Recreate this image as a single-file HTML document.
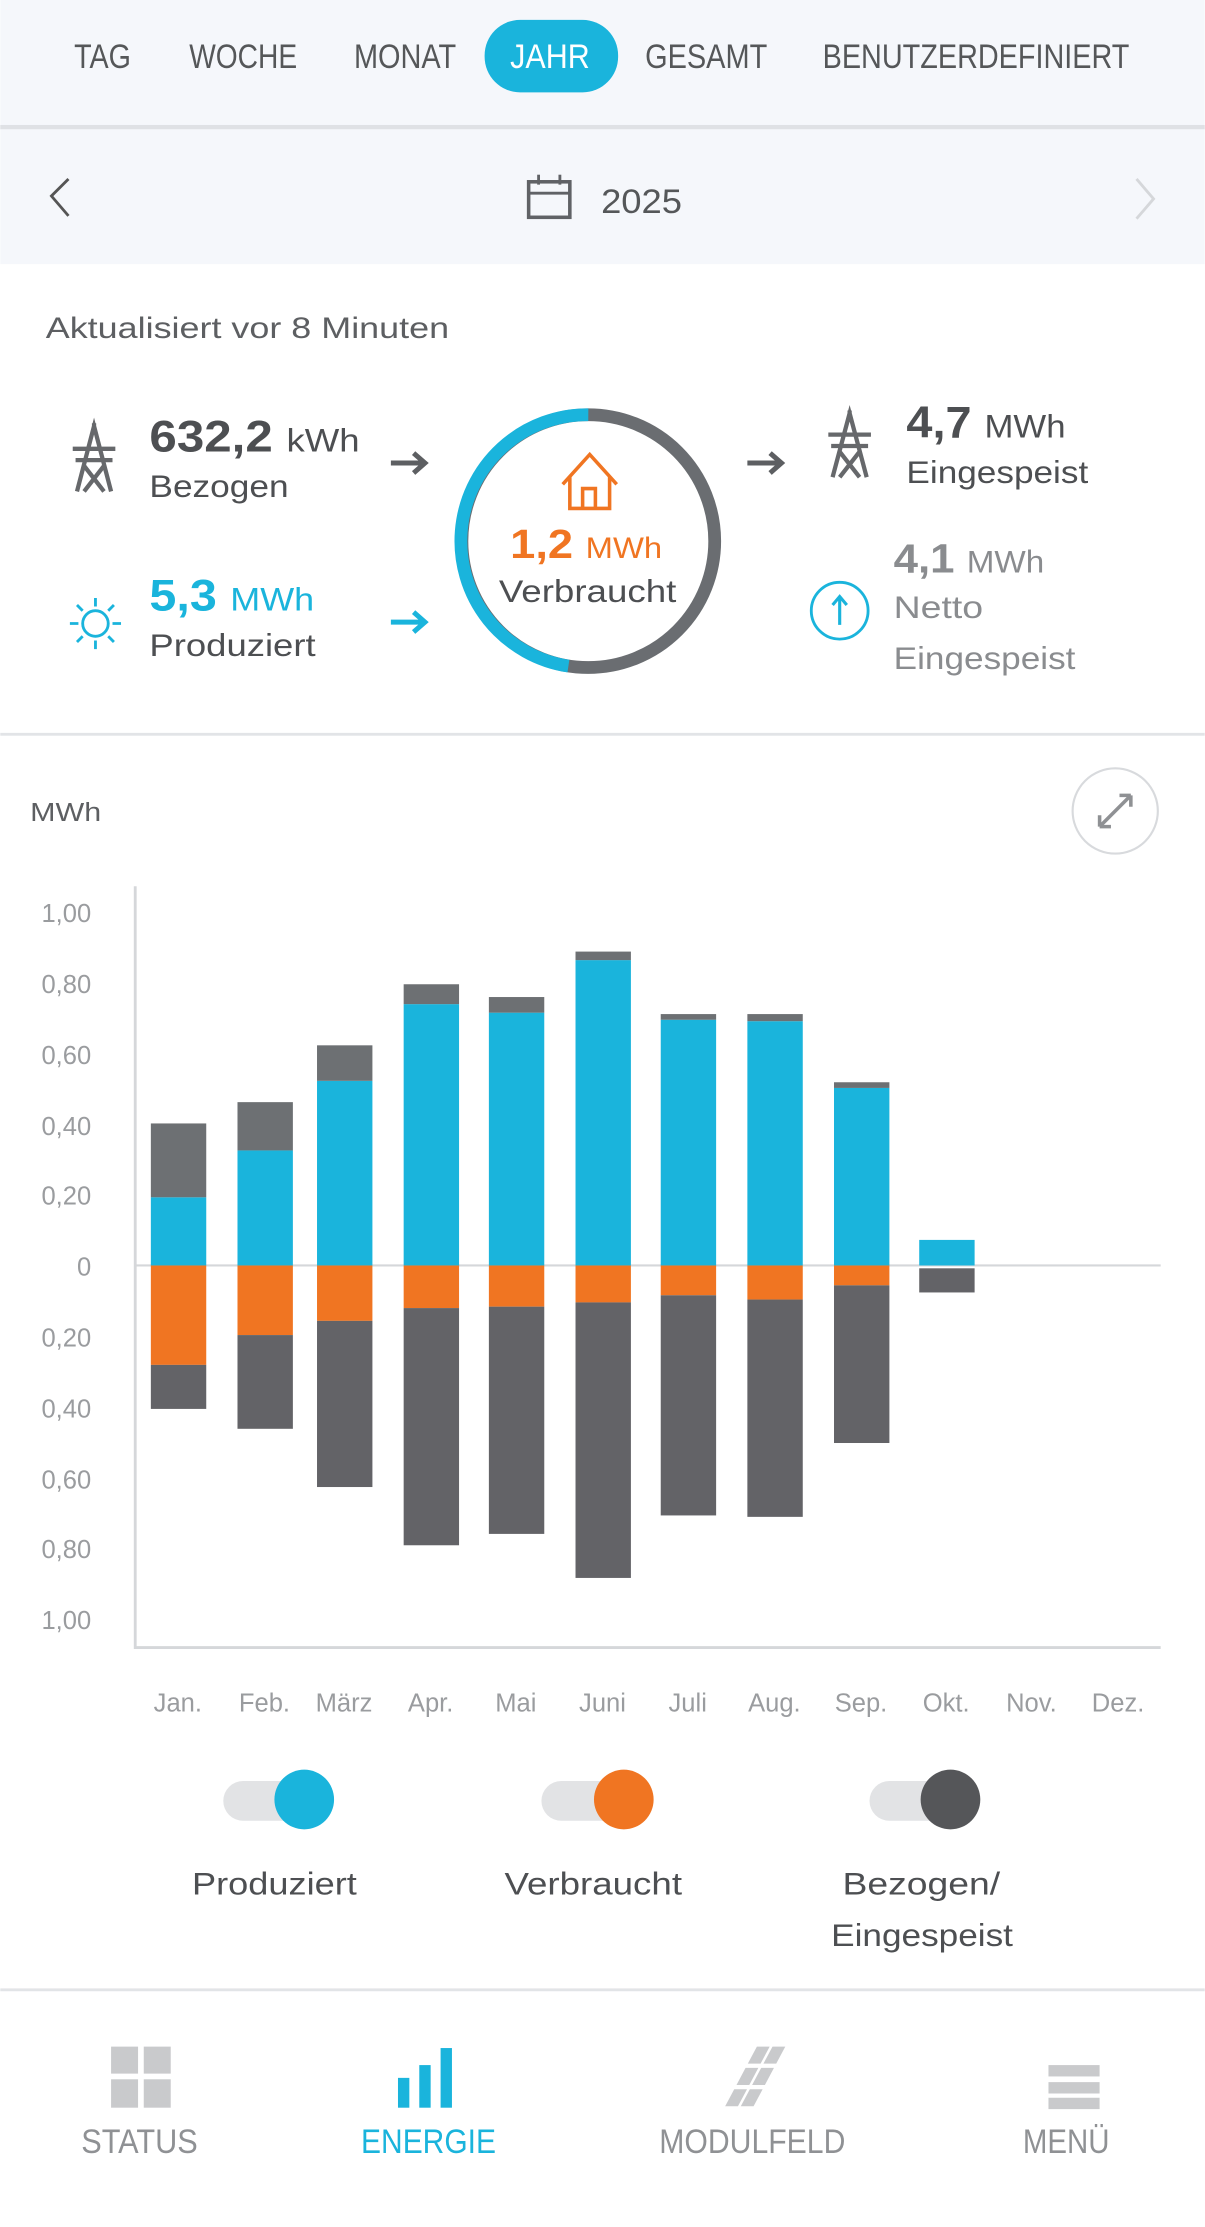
<!DOCTYPE html>
<html><head><meta charset="utf-8"><style>
html,body{margin:0;padding:0;background:#fff;}
svg{display:block}
text{font-family:"Liberation Sans",sans-serif;}
.n{font-family:"Liberation Sans Narrow","Liberation Sans",sans-serif;}
</style></head><body>
<svg width="1205" height="2227" viewBox="0 0 848 1568" xmlns="http://www.w3.org/2000/svg">
<rect width="848" height="1568" fill="#fff"/>
<rect width="848" height="186" fill="#f5f7fb"/>
<rect y="88" width="848" height="3" fill="#dfe1e5"/>
<!-- tabs -->
<rect x="341" y="14" width="94" height="51" rx="25" fill="#1ab4dc"/>
<g class="n" font-size="24" fill="#555759">
<text x="52" y="48" textLength="40" lengthAdjust="spacingAndGlyphs" class="n">TAG</text>
<text x="133" y="48" textLength="76" lengthAdjust="spacingAndGlyphs" class="n">WOCHE</text>
<text x="249" y="48" textLength="72" lengthAdjust="spacingAndGlyphs" class="n">MONAT</text>
<text x="359" y="48" textLength="56" lengthAdjust="spacingAndGlyphs" class="n" fill="#fff">JAHR</text>
<text x="454" y="48" textLength="86" lengthAdjust="spacingAndGlyphs" class="n">GESAMT</text>
<text x="579" y="48" textLength="216" lengthAdjust="spacingAndGlyphs" class="n">BENUTZERDEFINIERT</text>
<text x="423" y="150" textLength="57" lengthAdjust="spacingAndGlyphs" class="n">2025</text>
</g>
<path d="M48 126 L36 138 L48 152" stroke="#555" stroke-width="2" fill="none"/>
<path d="M800 126 L812 140 L800 154" stroke="#d5d7da" stroke-width="2" fill="none"/>
<rect x="372" y="128" width="29" height="25" fill="none" stroke="#606266" stroke-width="2.5"/>
<line x1="372" y1="136" x2="401" y2="136" stroke="#606266" stroke-width="2"/>
<line x1="379" y1="123" x2="379" y2="130" stroke="#606266" stroke-width="2"/>
<line x1="394" y1="123" x2="394" y2="130" stroke="#606266" stroke-width="2"/>

<text x="32" y="238" font-size="21" fill="#5d5f62" textLength="284" lengthAdjust="spacingAndGlyphs">Aktualisiert vor 8 Minuten</text>

<!-- pylons -->
<g stroke="#66686b" stroke-width="3" fill="none">
<path d="M54 346 L66 300 L78 346 M59 328 L73 346 M73 328 L59 346 M51 316 L81 316 M53 324 L79 324 M66 298 L66 306"/>
<path d="M586 336 L598 291 L610 336 M591 318 L605 336 M605 318 L591 336 M583 306 L613 306 M585 314 L611 314 M598 289 L598 297"/>
</g>
<text x="105" y="318" font-size="31" font-weight="bold" fill="#4d4f52" textLength="148" lengthAdjust="spacingAndGlyphs">632,2 <tspan font-size="23" font-weight="normal">kWh</tspan></text>
<text x="105" y="350" font-size="22" fill="#4d4f52" textLength="98" lengthAdjust="spacingAndGlyphs">Bezogen</text>
<text x="105" y="430" font-size="31" font-weight="bold" fill="#1ab4dc" textLength="116" lengthAdjust="spacingAndGlyphs">5,3 <tspan font-size="23" font-weight="normal">MWh</tspan></text>
<text x="105" y="462" font-size="22" fill="#4d4f52" textLength="117" lengthAdjust="spacingAndGlyphs">Produziert</text>
<!-- sun -->
<g stroke="#1ab4dc" stroke-width="2" fill="none">
<circle cx="67" cy="439" r="9"/>
<path d="M67 421v6M67 451v6M49 439h6M79 439h6M54 426l4 4M76 448l4 4M80 426l-4 4M54 452l4-4"/>
</g>
<!-- arrows -->
<g stroke-width="3.5">
<path d="M275 326h24M291 319l8 7-8 7" stroke="#5d5f62" fill="none"/>
<path d="M275 438h24M291 431l8 7-8 7" stroke="#1ab4dc" fill="none"/>
<path d="M526 326h24M542 319l8 7-8 7" stroke="#5d5f62" fill="none"/>
</g>
<!-- ring -->
<circle cx="414" cy="381" r="89" fill="none" stroke="#6a6d71" stroke-width="9"/>
<path d="M414 292 A89 89 0 0 0 400 469" fill="none" stroke="#1ab4dc" stroke-width="9"/>
<path d="M396 341 L415 320 L434 341 M401 336 L401 358 L429 358 L429 336 M410 358 L410 344 L419 344 L419 358" stroke="#f07522" stroke-width="2.5" fill="none"/>
<text x="359" y="393" font-size="29" font-weight="bold" fill="#f07522" textLength="107" lengthAdjust="spacingAndGlyphs">1,2 <tspan font-size="21" font-weight="normal">MWh</tspan></text>
<text x="351" y="424" font-size="22" fill="#4d4f52" textLength="125" lengthAdjust="spacingAndGlyphs">Verbraucht</text>
<text x="638" y="308" font-size="31" font-weight="bold" fill="#4d4f52" textLength="112" lengthAdjust="spacingAndGlyphs">4,7 <tspan font-size="23" font-weight="normal">MWh</tspan></text>
<text x="638" y="340" font-size="22" fill="#4d4f52" textLength="128" lengthAdjust="spacingAndGlyphs">Eingespeist</text>
<text x="629" y="403" font-size="29" font-weight="bold" fill="#8a8c8f" textLength="106" lengthAdjust="spacingAndGlyphs">4,1 <tspan font-size="22" font-weight="normal">MWh</tspan></text>
<text x="629" y="435" font-size="22" fill="#8a8c8f" textLength="63" lengthAdjust="spacingAndGlyphs">Netto</text>
<text x="629" y="471" font-size="22" fill="#8a8c8f" textLength="128" lengthAdjust="spacingAndGlyphs">Eingespeist</text>
<circle cx="591" cy="430" r="20" fill="none" stroke="#1ab4dc" stroke-width="2"/>
<path d="M591 440 V421 M586 426 L591 420 L596 426" stroke="#1ab4dc" stroke-width="2.2" fill="none"/>

<rect y="516" width="848" height="2" fill="#e2e4e7"/>
<text x="21" y="578" font-size="18" fill="#5d5f62" textLength="50" lengthAdjust="spacingAndGlyphs">MWh</text>
<circle cx="785" cy="571" r="30" fill="none" stroke="#d8dadd" stroke-width="1.5"/>
<path d="M774 582 L796 560 M774 582 l0 -8 M774 582 l8 0 M796 560 l-8 0 M796 560 l0 8" stroke="#8f9194" stroke-width="2.5" fill="none"/>

<!-- axes -->
<line x1="95" y1="624" x2="95" y2="1161" stroke="#d5d7da" stroke-width="2"/>
<line x1="95" y1="1160" x2="817" y2="1160" stroke="#d5d7da" stroke-width="2"/>
<line x1="95" y1="891" x2="817" y2="891" stroke="#d5d7da" stroke-width="1.5"/>
<g font-size="18" fill="#9a9c9f" text-anchor="end">
<text x="64" y="649">1,00</text><text x="64" y="699">0,80</text><text x="64" y="749">0,60</text>
<text x="64" y="799">0,40</text><text x="64" y="848">0,20</text><text x="64" y="898">0</text>
<text x="64" y="948">0,20</text><text x="64" y="998">0,40</text><text x="64" y="1048">0,60</text>
<text x="64" y="1097">0,80</text><text x="64" y="1147">1,00</text>
</g>
<g font-size="18" fill="#9a9c9f" text-anchor="middle">
<text x="125" y="1205">Jan.</text><text x="186" y="1205">Feb.</text><text x="242" y="1205">März</text>
<text x="303" y="1205">Apr.</text><text x="363" y="1205">Mai</text><text x="424" y="1205">Juni</text>
<text x="484" y="1205">Juli</text><text x="545" y="1205">Aug.</text><text x="606" y="1205">Sep.</text>
<text x="666" y="1205">Okt.</text><text x="726" y="1205">Nov.</text><text x="787" y="1205">Dez.</text>
</g>
<!-- bars -->
<g>
<rect x="106" y="843" width="39" height="48" fill="#1ab4dc"/><rect x="106" y="791" width="39" height="52" fill="#6d7073"/>
<rect x="106" y="891" width="39" height="70" fill="#f07522"/><rect x="106" y="961" width="39" height="31" fill="#636367"/>
<rect x="167" y="810" width="39" height="81" fill="#1ab4dc"/><rect x="167" y="776" width="39" height="34" fill="#6d7073"/>
<rect x="167" y="891" width="39" height="49" fill="#f07522"/><rect x="167" y="940" width="39" height="66" fill="#636367"/>
<rect x="223" y="761" width="39" height="130" fill="#1ab4dc"/><rect x="223" y="736" width="39" height="25" fill="#6d7073"/>
<rect x="223" y="891" width="39" height="39" fill="#f07522"/><rect x="223" y="930" width="39" height="117" fill="#636367"/>
<rect x="284" y="707" width="39" height="184" fill="#1ab4dc"/><rect x="284" y="693" width="39" height="14" fill="#6d7073"/>
<rect x="284" y="891" width="39" height="30" fill="#f07522"/><rect x="284" y="921" width="39" height="167" fill="#636367"/>
<rect x="344" y="713" width="39" height="178" fill="#1ab4dc"/><rect x="344" y="702" width="39" height="11" fill="#6d7073"/>
<rect x="344" y="891" width="39" height="29" fill="#f07522"/><rect x="344" y="920" width="39" height="160" fill="#636367"/>
<rect x="405" y="676" width="39" height="215" fill="#1ab4dc"/><rect x="405" y="670" width="39" height="6" fill="#6d7073"/>
<rect x="405" y="891" width="39" height="26" fill="#f07522"/><rect x="405" y="917" width="39" height="194" fill="#636367"/>
<rect x="465" y="718" width="39" height="173" fill="#1ab4dc"/><rect x="465" y="714" width="39" height="4" fill="#6d7073"/>
<rect x="465" y="891" width="39" height="21" fill="#f07522"/><rect x="465" y="912" width="39" height="155" fill="#636367"/>
<rect x="526" y="719" width="39" height="172" fill="#1ab4dc"/><rect x="526" y="714" width="39" height="5" fill="#6d7073"/>
<rect x="526" y="891" width="39" height="24" fill="#f07522"/><rect x="526" y="915" width="39" height="153" fill="#636367"/>
<rect x="587" y="766" width="39" height="125" fill="#1ab4dc"/><rect x="587" y="762" width="39" height="4" fill="#6d7073"/>
<rect x="587" y="891" width="39" height="14" fill="#f07522"/><rect x="587" y="905" width="39" height="111" fill="#636367"/>
<rect x="647" y="873" width="39" height="18" fill="#1ab4dc"/>
<rect x="647" y="893" width="39" height="17" fill="#636367"/>
</g>
<!-- legend toggles -->
<rect x="157" y="1254" width="60" height="28" rx="14" fill="#e2e3e5"/><circle cx="214" cy="1267" r="21" fill="#1ab4dc"/>
<rect x="381" y="1254" width="60" height="28" rx="14" fill="#e2e3e5"/><circle cx="439" cy="1267" r="21" fill="#f07522"/>
<rect x="612" y="1254" width="60" height="28" rx="14" fill="#e2e3e5"/><circle cx="669" cy="1267" r="21" fill="#555659"/>
<g font-size="22" fill="#4d4f52">
<text x="135" y="1334" textLength="116" lengthAdjust="spacingAndGlyphs">Produziert</text>
<text x="355" y="1334" textLength="125" lengthAdjust="spacingAndGlyphs">Verbraucht</text>
<text x="593" y="1334" textLength="111" lengthAdjust="spacingAndGlyphs">Bezogen/</text>
<text x="585" y="1370" textLength="128" lengthAdjust="spacingAndGlyphs">Eingespeist</text>
</g>
<rect y="1400" width="848" height="2" fill="#e2e4e7"/>
<!-- bottom nav -->
<g fill="#c9cacc">
<rect x="78" y="1441" width="19" height="19"/><rect x="101" y="1441" width="19" height="19"/>
<rect x="78" y="1464" width="19" height="20"/><rect x="101" y="1464" width="19" height="20"/>
<rect x="738" y="1454" width="36" height="8"/><rect x="738" y="1466" width="36" height="8"/><rect x="738" y="1477" width="36" height="8"/>
<g transform="translate(534 1463) skewX(-28)">
<rect x="-13" y="-22" width="9" height="12"/><rect x="-2" y="-22" width="9" height="12"/>
<rect x="-13" y="-7" width="9" height="12"/><rect x="-2" y="-7" width="9" height="12"/>
<rect x="-13" y="8" width="9" height="12"/><rect x="-2" y="8" width="9" height="12"/>
</g>
</g>
<g fill="#1ab4dc"><rect x="280" y="1463" width="8" height="21"/><rect x="295" y="1454" width="8" height="30"/><rect x="310" y="1442" width="8" height="42"/></g>
<g font-size="24" fill="#8f9194" class="n">
<text x="57" y="1516" textLength="82" lengthAdjust="spacingAndGlyphs" class="n">STATUS</text>
<text x="254" y="1516" textLength="95" lengthAdjust="spacingAndGlyphs" class="n" fill="#1ab4dc">ENERGIE</text>
<text x="464" y="1516" textLength="131" lengthAdjust="spacingAndGlyphs" class="n">MODULFELD</text>
<text x="720" y="1516" textLength="61" lengthAdjust="spacingAndGlyphs" class="n">MENÜ</text>
</g>
</svg>
</body></html>
